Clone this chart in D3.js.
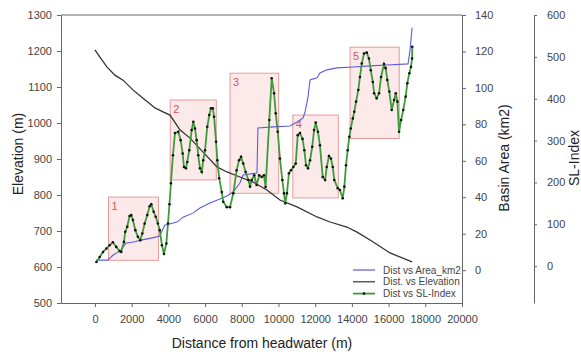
<!DOCTYPE html>
<html>
<head>
<meta charset="utf-8">
<script src="https://cdn.jsdelivr.net/npm/d3@7"></script>
<style>
  html, body { margin: 0; padding: 0; background: #fff; }
  svg { display: block; font-family: "Liberation Sans", Arial, sans-serif; }
  .axis text { font-size: 11px; fill: #444; }
  .axis path, .axis line { stroke: #666; }
</style>
</head>
<body>
<svg id="chart" width="581" height="352"></svg>
<script>
// Distance (m) vs elevation (m)
const elevDist = [0, 270, 650, 1090, 1530, 2070, 2620, 3270, 3710, 4090, 4630, 5180, 5890, 6650, 7190, 7900, 8610, 9370, 10080, 11010, 12100, 12810, 13730, 14280, 14990, 16080, 17280];
const elevation = [1203, 1183, 1156, 1133, 1119, 1092, 1069, 1042, 1031, 1022, 981, 958, 919, 878, 864, 850, 836, 814, 786, 767, 739, 725, 711, 697, 675, 639, 614];

// Distance (m) vs basin area (km2)
const areaDist = [60, 700, 980, 1420, 1690, 2160, 2510, 3250, 3530, 3800, 4470, 4800, 5340, 5720, 6270, 6810, 7190, 7520, 7900, 8070, 8830, 8880, 9700, 10630, 11010, 11340, 11450, 11610, 11720, 12100, 12260, 12640, 13190, 14060, 14990, 15910, 17060, 17170, 17280];
const areaKm2 = [5.5, 5.5, 8.2, 11, 14.8, 15.6, 16.5, 18, 18.7, 24.7, 26.4, 29.1, 31.3, 34.1, 36.8, 39, 40.7, 42.9, 47.8, 52.2, 53.3, 78, 78.6, 79.1, 81.3, 83.5, 86.8, 95.1, 104.4, 105.5, 108.2, 109.9, 111, 111.5, 112.1, 112.6, 113.2, 120.9, 133];

// Distance (m) vs SL-Index
const slDist = [80, 260, 440, 620, 800, 980, 1160, 1350, 1430, 1580,
  1650, 1760, 1890, 1980, 2070, 2200, 2340, 2470, 2580, 2710,
  2850, 2980, 3070, 3200, 3310, 3430, 3530, 3650, 3760, 3890,
  3980, 4060, 4140, 4250, 4360, 4540, 4670, 4780, 4850, 4960,
  5030, 5140, 5270, 5360, 5450, 5540, 5630, 5720, 5820, 5900,
  6000, 6120, 6230, 6320, 6420, 6490, 6600, 6670, 6770, 6910,
  6990, 7180, 7360, 7540, 7720, 7850, 7960, 8080, 8210, 8360,
  8450, 8540, 8680, 8810, 8950, 9090, 9210, 9300, 9500, 9630,
  9760, 9850, 9960, 10080, 10210, 10300, 10370, 10460, 10570, 10680,
  10810, 10940, 11050, 11170, 11310, 11410, 11500, 11610, 11720, 11840,
  11940, 12030, 12150, 12260, 12410, 12540, 12630, 12750, 12860, 12960,
  13040, 13230, 13350, 13500, 13590, 13680, 13770, 13860, 13940, 14050,
  14130, 14230, 14350, 14440, 14540, 14660, 14810, 14930, 15030, 15140,
  15210, 15350, 15480, 15590, 15750, 15840, 15930, 16040, 16170, 16300,
  16390, 16480, 16570, 16680, 16800, 16930, 17020, 17130, 17220, 17280, 17290];
const slIndex = [10, 22, 34, 42, 50, 57, 46, 36, 34, 58,
  82, 94, 120, 122, 110, 86, 70, 62, 78, 102,
  122, 143, 148, 130, 118, 102, 86, 50, 29, 54,
  102, 148, 198, 265, 318, 321, 301, 269, 237, 234,
  249, 277, 325, 345, 329, 301, 265, 234, 225, 253,
  277, 333, 361, 377, 377, 357, 297, 253, 210, 177,
  154, 141, 141, 174, 229, 253, 261, 245, 225, 206,
  190, 206, 217, 194, 217, 213, 217, 189, 349, 449,
  413, 365, 321, 257, 206, 174, 150, 174, 222, 229,
  237, 245, 313, 318, 304, 277, 241, 234, 253, 285,
  325, 343, 321, 289, 213, 206, 237, 263, 257, 237,
  206, 186, 182, 162, 190, 241, 277, 309, 329, 353,
  369, 393, 421, 452, 484, 508, 510, 496, 468, 440,
  413, 401, 413, 452, 483, 473, 445, 417, 373, 397,
  413, 393, 321, 349, 373, 405, 437, 461, 476, 496, 524];

// Highlighted zones: distance range (m) and SL-Index range
const zoneLabels = ['1', '2', '3', '4', '5'];
const zoneStart = [740, 4100, 7360, 10780, 13900];
const zoneEnd = [3460, 6610, 10010, 13260, 16580];
const zoneLow = [14, 206, 174, 163, 305];
const zoneHigh = [165, 397, 461, 361, 523];

const xTicks = d3.range(0, 20001, 2000);
const elevTicks = d3.range(500, 1301, 100);
const areaTicks = d3.range(0, 141, 20);
const slTicks = d3.range(0, 601, 100);

const legendLabels = ['Dist vs Area_km2', 'Dist. vs Elevation', 'Dist vs SL-Index'];

const AREA_COLOR = '#5b5be0';
const ELEV_COLOR = '#333333';
const SL_COLOR = '#3f9a3a';

const plot = { left: 61, right: 462, top: 15, bottom: 303 };
const slAxisX = 534;
const plain = d3.format('d');

const svg = d3.select('#chart');

const x = d3.scaleLinear().domain([-1850, 20000]).range([plot.left, plot.right]);
const yElev = d3.scaleLinear().domain([500, 1300]).range([plot.bottom, plot.top]);
const yArea = d3.scaleLinear().domain([-18, 140]).range([plot.bottom, plot.top]);
const ySL = d3.scaleLinear().domain([-88, 600]).range([plot.bottom, plot.top]);

// zone boxes behind the lines
const zones = zoneLabels.map((label, i) => ({ label, x0: zoneStart[i], x1: zoneEnd[i], y0: zoneLow[i], y1: zoneHigh[i] }));

const zoneG = svg.append('g').selectAll('g').data(zones).enter().append('g');
zoneG.append('rect')
  .attr('x', d => x(d.x0))
  .attr('y', d => ySL(d.y1))
  .attr('width', d => x(d.x1) - x(d.x0))
  .attr('height', d => ySL(d.y0) - ySL(d.y1))
  .attr('fill', '#f6c4c4')
  .attr('fill-opacity', 0.35)
  .attr('stroke', '#e89a9a')
  .attr('stroke-width', 1);
zoneG.append('text')
  .attr('x', d => x(d.x0) + 3)
  .attr('y', d => ySL(d.y1) + 13)
  .attr('font-size', 11)
  .attr('fill', '#d65555')
  .text(d => d.label);

// frame
svg.append('line')
  .attr('x1', plot.left).attr('x2', plot.right)
  .attr('y1', plot.top).attr('y2', plot.top)
  .attr('stroke', '#666');

// axes
svg.append('g').attr('class', 'axis')
  .attr('transform', `translate(${plot.left},0)`)
  .call(d3.axisLeft(yElev).tickValues(elevTicks).tickFormat(plain).tickSize(4).tickSizeOuter(0).tickPadding(5));

svg.append('g').attr('class', 'axis')
  .attr('transform', `translate(0,${plot.bottom})`)
  .call(d3.axisBottom(x).tickValues(xTicks).tickFormat(plain).tickSize(4).tickSizeOuter(0).tickPadding(8));

svg.append('g').attr('class', 'axis')
  .attr('transform', `translate(${plot.right},0)`)
  .call(d3.axisRight(yArea).tickValues(areaTicks).tickFormat(plain).tickSize(4).tickSizeOuter(0).tickPadding(9));

svg.append('g').attr('class', 'axis')
  .attr('transform', `translate(${slAxisX},0)`)
  .call(d3.axisRight(ySL).tickValues(slTicks).tickFormat(plain).tickSize(3).tickSizeOuter(0).tickPadding(10));

// axis titles
const title = (tx, ty, rot, text) => svg.append('text')
  .attr('transform', `translate(${tx},${ty}) rotate(${rot})`)
  .attr('text-anchor', 'middle')
  .attr('font-size', 14)
  .attr('fill', '#222')
  .text(text);

title(23, 154, -90, 'Elevation (m)');
title(509, 158, -90, 'Basin Area (km2)');
title(579, 158, -90, 'SL-Index');
title(262, 348, 0, 'Distance from headwater (m)');

// series
const elevLine = d3.line().x(d => x(d[0])).y(d => yElev(d[1]));
const areaLine = d3.line().x(d => x(d[0])).y(d => yArea(d[1]));
const slLine = d3.line().x(d => x(d[0])).y(d => ySL(d[1]));

const elevData = elevDist.map((d, i) => [d, elevation[i]]);
const areaData = areaDist.map((d, i) => [d, areaKm2[i]]);
const slData = slDist.map((d, i) => [d, slIndex[i]]);

svg.append('path').datum(areaData)
  .attr('d', areaLine)
  .attr('fill', 'none')
  .attr('stroke', AREA_COLOR)
  .attr('stroke-width', 1.1);

svg.append('path').datum(elevData)
  .attr('d', elevLine)
  .attr('fill', 'none')
  .attr('stroke', ELEV_COLOR)
  .attr('stroke-width', 1.3);

svg.append('path').datum(slData)
  .attr('d', slLine)
  .attr('fill', 'none')
  .attr('stroke', SL_COLOR)
  .attr('stroke-width', 1.8);

svg.append('g').selectAll('circle').data(slData).enter().append('circle')
  .attr('cx', d => x(d[0]))
  .attr('cy', d => ySL(d[1]))
  .attr('r', 1.3)
  .attr('fill', '#111');

// legend
const legendColors = [AREA_COLOR, ELEV_COLOR, SL_COLOR];
const legend = svg.append('g').attr('transform', 'translate(353,270)');
legendLabels.forEach((label, i) => {
  const row = legend.append('g').attr('transform', `translate(0,${i * 11.8})`);
  row.append('line')
    .attr('x1', 0).attr('x2', 22)
    .attr('stroke', legendColors[i])
    .attr('stroke-width', i === 2 ? 1.8 : 1.2);
  if (i === 2) {
    row.append('circle').attr('cx', 11).attr('r', 1.3).attr('fill', '#111');
  }
  row.append('text')
    .attr('x', 30)
    .attr('dy', '0.35em')
    .attr('font-size', 10)
    .attr('fill', '#444')
    .text(label);
});
</script>
</body>
</html>
